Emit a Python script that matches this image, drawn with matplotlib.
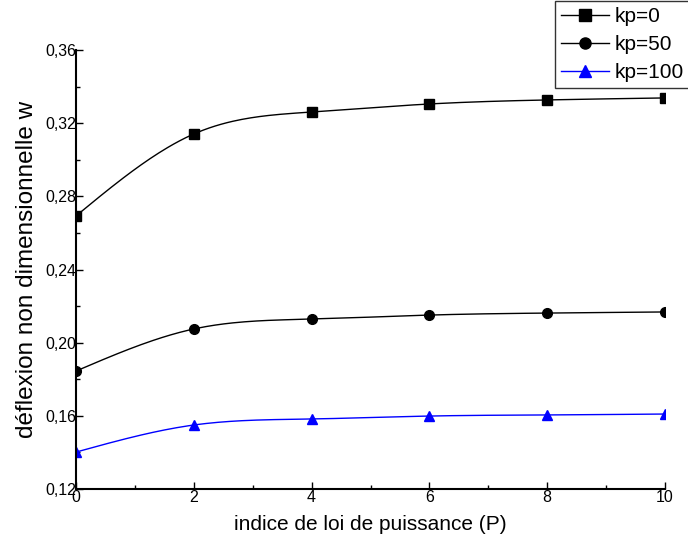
import numpy as np
import matplotlib
matplotlib.use('Agg')
import matplotlib.pyplot as plt
from matplotlib.ticker import FuncFormatter, MultipleLocator

# values
P = [0, 2, 4, 6, 8, 10]
w_kp0 = [0.2693, 0.3141, 0.3261, 0.3305, 0.3327, 0.3338]
w_kp50 = [0.1845, 0.2075, 0.2129, 0.2151, 0.2162, 0.2168]
w_kp100 = [0.1402, 0.1550, 0.1583, 0.1599, 0.1605, 0.1610]
labels = ['kp=0', 'kp=50', 'kp=100']


def natural_spline(x, y, n=200):
    """smooth line through the markers (natural cubic spline)"""
    x = np.asarray(x, float)
    y = np.asarray(y, float)
    k = len(x)
    h = np.diff(x)
    A = np.zeros((k, k))
    b = np.zeros(k)
    A[0, 0] = A[-1, -1] = 1
    for i in range(1, k - 1):
        A[i, i - 1] = h[i - 1]
        A[i, i] = 2 * (h[i - 1] + h[i])
        A[i, i + 1] = h[i]
        b[i] = 6 * ((y[i + 1] - y[i]) / h[i] - (y[i] - y[i - 1]) / h[i - 1])
    M = np.linalg.solve(A, b)
    xs = np.linspace(x[0], x[-1], n)
    idx = np.clip(np.searchsorted(x, xs) - 1, 0, k - 2)
    x0, x1 = x[idx], x[idx + 1]
    hh = x1 - x0
    ys = (M[idx] * (x1 - xs) ** 3 / (6 * hh) + M[idx + 1] * (xs - x0) ** 3 / (6 * hh)
          + (y[idx] / hh - M[idx] * hh / 6) * (x1 - xs)
          + (y[idx + 1] / hh - M[idx + 1] * hh / 6) * (xs - x0))
    return xs, ys


plt.rcParams['font.family'] = ['Liberation Sans', 'DejaVu Sans']

fig = plt.figure(figsize=(6.88, 5.43), dpi=100)
ax = fig.add_axes([0.1105, 0.0994, 0.8561, 0.8085])

series = [(w_kp0, 's', 'black'), (w_kp50, 'o', 'black'), (w_kp100, '^', 'blue')]
for (w, m, c), lab in zip(series, labels):
    xs, ys = natural_spline(P, w)
    ax.plot(xs, ys, color=c, lw=1.0)
    ax.plot(P, w, linestyle='none', marker=m, color=c, markersize=7)
    # legend proxy
    ax.plot([], [], color=c, lw=1.0, marker=m, markersize=8, label=lab)

ax.set_xlim(0, 10)
ax.set_ylim(0.12, 0.36)
ax.xaxis.set_major_locator(MultipleLocator(2))
ax.xaxis.set_minor_locator(MultipleLocator(1))
ax.yaxis.set_major_locator(MultipleLocator(0.04))
ax.yaxis.set_minor_locator(MultipleLocator(0.02))
ax.yaxis.set_major_formatter(FuncFormatter(lambda v, p: ('%.2f' % v).replace('.', ',')))

ax.spines['top'].set_visible(False)
ax.spines['right'].set_visible(False)
ax.spines['left'].set_linewidth(1.5)
ax.spines['bottom'].set_linewidth(1.5)
ax.tick_params(which='both', direction='in', labelsize=11.5)
ax.tick_params(which='major', length=5, width=1)
ax.tick_params(which='minor', length=3, width=1)
ax.tick_params(axis='x', pad=1)
ax.tick_params(axis='y', pad=0)

ax.set_xlabel('indice de loi de puissance (P)', fontsize=15, labelpad=7)
ax.set_ylabel('déflexion non dimensionnelle w', fontsize=17.5, labelpad=5)

leg = fig.legend(loc='upper right', bbox_to_anchor=(1.003, 0.998), fontsize=15,
                 frameon=True, fancybox=False, edgecolor='black', handlelength=2.3,
                 borderpad=0.3, labelspacing=0.42, handletextpad=0.25,
                 borderaxespad=0)
leg.get_frame().set_linewidth(1.0)

plt.savefig('out.png', dpi=100)
